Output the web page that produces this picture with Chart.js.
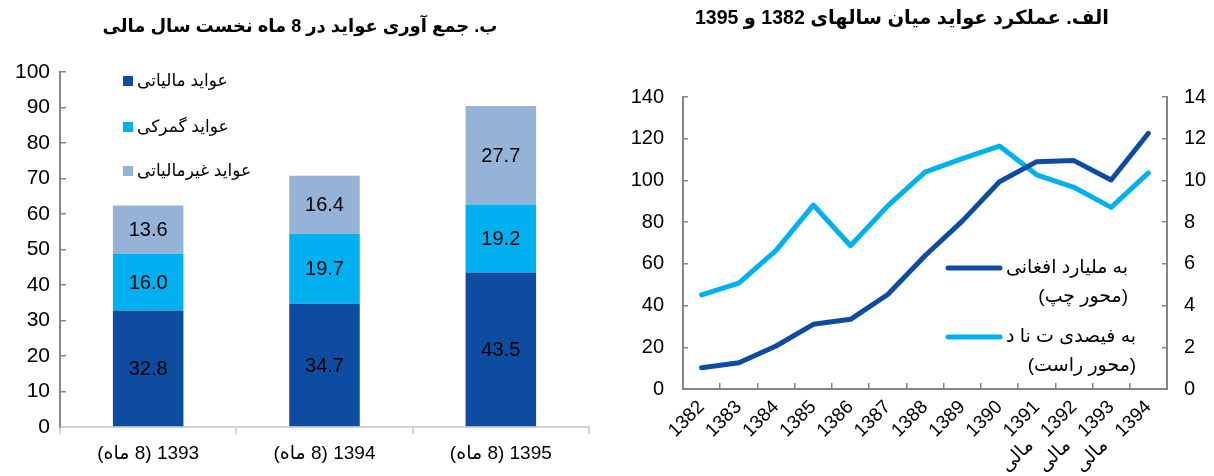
<!DOCTYPE html>
<html>
<head>
<meta charset="utf-8">
<script src="https://cdn.jsdelivr.net/npm/chart.js@4.4.1/dist/chart.umd.min.js"></script>
<style>
  html, body { margin: 0; padding: 0; background: #fff; }
  #left { position: absolute; left: 0; top: 0; width: 600px; height: 476px; }
  #right { position: absolute; left: 600px; top: 0; width: 614px; height: 476px; }
</style>
</head>
<body>
<div id="left"><canvas id="barChart" dir="rtl"></canvas></div>
<div id="right"><canvas id="lineChart" dir="rtl"></canvas></div>
<script>
// left chart: revenue collected in first 8 months (billion afghani)
const barLabels = ['1393 (8 ماه)', '1394 (8 ماه)', '1395 (8 ماه)'];
const taxRevenue = [32.8, 34.7, 43.5];
const customsRevenue = [16.0, 19.7, 19.2];
const nonTaxRevenue = [13.6, 16.4, 27.7];
const barSeriesNames = ['عواید مالیاتی', 'عواید گمرکی', 'عواید غیرمالیاتی'];

// right chart: revenue 1382-1394
// (the nbsp's push the second line along the slanted label, like the original)
const fiscal = '\u00A0\u00A0\u00A0\u00A0\u00A0\u00A0مالی';
const years = ['1382', '1383', '1384', '1385', '1386', '1387', '1388', '1389', '1390',
  ['1391', fiscal], ['1392', fiscal], ['1393', fiscal], '1394'];
const revenueBillions = [10.2, 12.6, 20.6, 31.0, 33.4, 45.3, 63.9, 80.5, 99.4, 109.0, 109.5, 100.2, 122.6];
const revenueGdpPct = [4.51, 5.08, 6.65, 8.82, 6.87, 8.78, 10.4, 11.05, 11.65, 10.27, 9.67, 8.71, 10.36];
const lineSeriesNames = [['به ملیارد افغانی', '(محور چپ)'], ['به فیصدی ت نا د', '(محور راست)']];

const leftTitle = 'ب. جمع آوری عواید در 8 ماه نخست سال مالی';
const rightTitle = 'الف. عملکرد عواید میان سالهای 1382 و 1395';

const FONT = '"Liberation Sans", Arial, "DejaVu Sans", sans-serif';
const DARK = '#0D4CA1';
const LIGHT = '#00B0F0';
const PALE = '#95B3D7';
const AXIS = '#868686';

const sheetTitle = {
  id: 'sheetTitle',
  afterDraw(chart, args, opts) {
    const ctx = chart.ctx;
    ctx.save();
    ctx.font = 'bold ' + opts.size + 'px ' + FONT;
    ctx.fillStyle = '#000';
    ctx.textAlign = 'center';
    ctx.textBaseline = 'middle';
    ctx.fillText(opts.text, opts.x, opts.y);
    ctx.restore();
  }
};

const barValues = {
  id: 'barValues',
  afterDatasetsDraw(chart) {
    const ctx = chart.ctx;
    ctx.save();
    ctx.font = '20px ' + FONT;
    ctx.fillStyle = '#000';
    ctx.textAlign = 'center';
    ctx.textBaseline = 'middle';
    chart.data.datasets.forEach((ds, i) => {
      chart.getDatasetMeta(i).data.forEach((bar, j) => {
        const p = bar.getCenterPoint();
        ctx.fillText(ds.data[j].toFixed(1), p.x, p.y + 1);
      });
    });
    ctx.restore();
  }
};

const boxLegend = {
  id: 'boxLegend',
  afterDraw(chart, args, opts) {
    const ctx = chart.ctx;
    ctx.save();
    ctx.font = '17px ' + FONT;
    ctx.textBaseline = 'middle';
    ctx.textAlign = 'left';
    chart.data.datasets.forEach((ds, i) => {
      const y = opts.rows[i];
      ctx.fillStyle = ds.backgroundColor;
      ctx.fillRect(opts.x, y - 5, 10, 10);
      ctx.fillStyle = '#000';
      ctx.fillText(ds.label, opts.x + 14, y);
    });
    ctx.restore();
  }
};

const lineLegend = {
  id: 'lineLegend',
  afterDraw(chart, args, opts) {
    const ctx = chart.ctx;
    ctx.save();
    ctx.font = '19px ' + FONT;
    ctx.textBaseline = 'middle';
    chart.data.datasets.forEach((ds, i) => {
      const y = opts.rows[i];
      ctx.strokeStyle = ds.borderColor;
      ctx.lineWidth = 5;
      ctx.lineCap = 'round';
      ctx.beginPath();
      ctx.moveTo(opts.x, y);
      ctx.lineTo(opts.x + 52, y);
      ctx.stroke();
      const w = Math.max(...ds.label.map(t => ctx.measureText(t).width));
      ctx.fillStyle = '#000';
      ctx.textAlign = 'right';
      ds.label.forEach((t, k) => {
        ctx.fillText(t, opts.x + 58 + w, y + k * 29);
      });
    });
    ctx.restore();
  }
};

new Chart(document.getElementById('barChart'), {
  type: 'bar',
  data: {
    labels: barLabels,
    datasets: [
      { label: barSeriesNames[0], data: taxRevenue, backgroundColor: DARK },
      { label: barSeriesNames[1], data: customsRevenue, backgroundColor: LIGHT },
      { label: barSeriesNames[2], data: nonTaxRevenue, backgroundColor: PALE }
    ]
  },
  options: {
    responsive: true,
    maintainAspectRatio: false,
    animation: false,
    barPercentage: 0.4,
    categoryPercentage: 1.0,
    layout: { padding: { top: 72, right: 11, left: 0, bottom: 0 } },
    scales: {
      x: {
        stacked: true,
        grid: { offset: true, drawOnChartArea: false, tickLength: 7, color: '#d4d4d4', lineWidth: 2 },
        border: { color: '#d4d4d4', width: 2 },
        ticks: { color: '#000', font: { size: 19, family: FONT }, padding: 8, maxRotation: 0 },
        afterFit(scale) { scale.height = 49; }
      },
      y: {
        stacked: true,
        min: 0,
        max: 100,
        ticks: { stepSize: 10, color: '#000', font: { size: 21, family: FONT }, padding: 16 },
        grid: { drawOnChartArea: false, tickLength: -6, color: AXIS, lineWidth: 1.5 },
        border: { color: AXIS, width: 2 },
        afterFit(scale) { scale.width = 60; }
      }
    },
    plugins: {
      legend: { display: false },
      tooltip: { enabled: false },
      sheetTitle: { text: leftTitle, x: 300, y: 27, size: 18 },
      boxLegend: { x: 123, rows: [81, 127, 171] }
    }
  },
  plugins: [sheetTitle, barValues, boxLegend]
});

new Chart(document.getElementById('lineChart'), {
  type: 'line',
  data: {
    labels: years,
    datasets: [
      { label: lineSeriesNames[0], data: revenueBillions, yAxisID: 'y', borderColor: DARK },
      { label: lineSeriesNames[1], data: revenueGdpPct, yAxisID: 'y1', borderColor: LIGHT }
    ]
  },
  options: {
    responsive: true,
    maintainAspectRatio: false,
    animation: false,
    elements: {
      line: { borderWidth: 5, tension: 0, borderCapStyle: 'round', borderJoinStyle: 'round' },
      point: { radius: 0 }
    },
    layout: { padding: { top: 97, right: 0, left: 0, bottom: 0 } },
    scales: {
      x: {
        offset: true,
        grid: { offset: true, drawOnChartArea: false, tickLength: -6, color: AXIS, lineWidth: 1.5 },
        border: { color: AXIS, width: 2 },
        ticks: { color: '#000', font: { size: 19, family: FONT }, padding: 13, minRotation: 45, maxRotation: 45, autoSkip: false },
        afterFit(scale) { scale.height = 87; }
      },
      y: {
        position: 'left',
        min: 0,
        max: 140,
        ticks: { stepSize: 20, color: '#000', font: { size: 20, family: FONT }, padding: 24 },
        grid: { drawOnChartArea: false, tickLength: -5, color: AXIS, lineWidth: 1.5 },
        border: { color: AXIS, width: 2 },
        afterFit(scale) { scale.width = 83; }
      },
      y1: {
        position: 'right',
        min: 0,
        max: 14,
        ticks: { stepSize: 2, color: '#000', font: { size: 20, family: FONT }, padding: 22 },
        grid: { drawOnChartArea: false, tickLength: -5, color: AXIS, lineWidth: 1.5 },
        border: { color: AXIS, width: 2 },
        afterFit(scale) { scale.width = 47; }
      }
    },
    plugins: {
      legend: { display: false },
      tooltip: { enabled: false },
      sheetTitle: { text: rightTitle, x: 302, y: 19, size: 19.5 },
      lineLegend: { x: 348, rows: [268, 337] }
    }
  },
  plugins: [sheetTitle, lineLegend]
});
</script>
</body>
</html>
